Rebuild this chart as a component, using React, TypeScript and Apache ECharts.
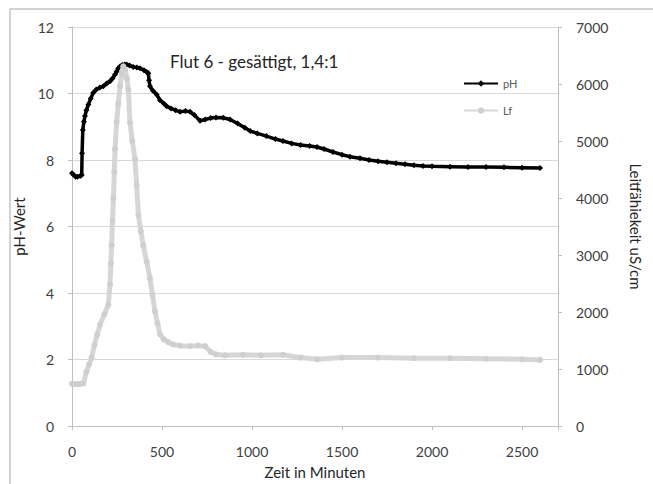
import React, { useEffect, useRef } from "react";
import * as echarts from "echarts";

const titleText = "Flut 6 - gesättigt, 1,4:1";
const xName = "Zeit in Minuten";
const leftName = "pH-Wert";
const rightName = "Leitfähiekeit uS/cm";
const seriesNames = ["pH", "Lf"];

const phData: [number, number][] = [
  [0, 7.6], [10, 7.55], [20, 7.5], [30, 7.5], [45, 7.52], [54, 7.55], [56, 8.2], [60, 8.9],
  [66, 9.15], [72, 9.32], [80, 9.5], [91, 9.67], [104, 9.85], [118, 10.02], [135, 10.12],
  [155, 10.18], [174, 10.22], [192, 10.3], [211, 10.37], [225, 10.45], [239, 10.57],
  [248, 10.66], [257, 10.76], [268, 10.82], [280, 10.86], [292, 10.87], [304, 10.87],
  [320, 10.84], [340, 10.8], [360, 10.78], [378, 10.76], [400, 10.7], [415, 10.65],
  [424, 10.61], [428, 10.4], [433, 10.22], [450, 10.08], [470, 9.97], [489, 9.8],
  [510, 9.7], [526, 9.62], [550, 9.55], [575, 9.5], [600, 9.45], [630, 9.47], [656, 9.45],
  [680, 9.35], [711, 9.18], [740, 9.22], [770, 9.26], [800, 9.28], [840, 9.27], [878, 9.22],
  [920, 9.1], [960, 8.97], [990, 8.87], [1030, 8.8], [1080, 8.72], [1130, 8.63],
  [1172, 8.57], [1220, 8.5], [1270, 8.45], [1320, 8.42], [1361, 8.39], [1400, 8.33],
  [1450, 8.24], [1500, 8.16], [1544, 8.1], [1600, 8.05], [1650, 8.0], [1700, 7.96],
  [1750, 7.93], [1800, 7.9], [1850, 7.87], [1900, 7.84], [1950, 7.82], [2000, 7.81],
  [2100, 7.8], [2200, 7.79], [2300, 7.79], [2400, 7.78], [2500, 7.77], [2600, 7.76],
];

const lfData: [number, number][] = [
  [0, 740], [15, 735], [30, 735], [45, 740], [63, 745], [80, 950], [95, 1080], [109, 1200],
  [125, 1420], [140, 1600], [156, 1780], [180, 1960], [202, 2130], [211, 2480], [216, 2850],
  [220, 3170], [225, 3600], [230, 3990], [235, 4450], [239, 4860], [248, 5330], [257, 5650],
  [267, 5960], [276, 6180], [285, 6310], [295, 6250], [305, 6100], [313, 5900], [322, 5320],
  [335, 5000], [350, 4680], [359, 4220], [369, 3700], [382, 3420], [396, 3170], [415, 2880],
  [433, 2590], [447, 2300], [461, 2010], [475, 1800], [489, 1610], [510, 1520], [535, 1470],
  [563, 1430], [600, 1410], [656, 1400], [700, 1410], [740, 1400], [770, 1300], [800, 1255],
  [850, 1240], [950, 1250], [1050, 1240], [1172, 1250], [1270, 1200], [1361, 1170],
  [1500, 1200], [1700, 1200], [1900, 1190], [2100, 1190], [2300, 1180], [2500, 1170],
  [2600, 1160],
];

const FONT = "Lato, 'Liberation Sans', sans-serif";
const AXIS_GREY = "#bfbfbf";
const LABEL_COLOR = "#404040";

export default function App() {
  const ref = useRef<HTMLDivElement>(null);
  useEffect(() => {
    if (!ref.current) return;
    const chart = echarts.init(ref.current, undefined, { renderer: "svg" });
    chart.setOption({
      animation: false,
      backgroundColor: "#ffffff",
      textStyle: { fontFamily: FONT },
      title: {
        text: titleText,
        left: 165,
        top: 48,
        textStyle: { fontFamily: FONT, fontSize: 17, fontWeight: "normal", color: "#262626" },
      },
      legend: {
        data: seriesNames,
        orient: "vertical",
        left: 458,
        top: 73,
        itemWidth: 34,
        itemHeight: 8,
        itemGap: 16,
        textStyle: { fontFamily: FONT, fontSize: 11, color: "#595959" },
      },
      grid: { left: 72, right: 95, top: 27, bottom: 55, containLabel: false },
      xAxis: {
        type: "value",
        min: 0,
        max: 2700,
        interval: 500,
        name: xName,
        nameLocation: "middle",
        nameGap: 38,
        nameTextStyle: { fontFamily: FONT, fontSize: 15, color: "#262626" },
        axisLine: { show: true, lineStyle: { color: AXIS_GREY, width: 1 } },
        axisTick: { show: true, length: 4, lineStyle: { color: AXIS_GREY } },
        axisLabel: {
          fontFamily: FONT,
          fontSize: 14,
          color: LABEL_COLOR,
          margin: 18,
          formatter: (v: number) => (v > 2500 ? "" : String(v)),
        },
        splitLine: { show: false },
      },
      yAxis: [
        {
          type: "value",
          min: 0,
          max: 12,
          interval: 2,
          name: leftName,
          nameLocation: "middle",
          nameRotate: 90,
          nameGap: 40,
          nameTextStyle: { fontFamily: FONT, fontSize: 15, color: "#262626" },
          axisLine: { show: true, lineStyle: { color: AXIS_GREY, width: 1 } },
          axisTick: { show: true, length: 4, lineStyle: { color: AXIS_GREY } },
          axisLabel: { fontFamily: FONT, fontSize: 14, color: LABEL_COLOR, margin: 18 },
          splitLine: { show: true, lineStyle: { color: "#d9d9d9", width: 1 } },
        },
        {
          type: "value",
          min: 0,
          max: 7000,
          interval: 1000,
          position: "right",
          name: rightName,
          nameLocation: "middle",
          nameRotate: -90,
          nameGap: 70,
          nameTextStyle: { fontFamily: FONT, fontSize: 15, color: "#262626" },
          axisLine: { show: true, lineStyle: { color: AXIS_GREY, width: 1 } },
          axisTick: { show: true, length: 4, lineStyle: { color: AXIS_GREY } },
          axisLabel: {
            fontFamily: FONT,
            fontSize: 14,
            color: LABEL_COLOR,
            margin: 18,
            formatter: (v: number) => String(v),
          },
          splitLine: { show: false },
        },
      ],
      graphic: [
        {
          type: "rect",
          shape: { x: 10, y: 9, width: 700, height: 520 },
          style: { fill: "none", stroke: "#a6a6a6", lineWidth: 1 },
          silent: true,
          z: -1,
        },
      ],
      series: [
        {
          name: seriesNames[0],
          type: "line",
          yAxisIndex: 0,
          data: phData,
          symbol: "diamond",
          symbolSize: 6,
          showSymbol: true,
          itemStyle: { color: "#000000" },
          lineStyle: { color: "#000000", width: 3.5 },
          z: 2,
        },
        {
          name: seriesNames[1],
          type: "line",
          yAxisIndex: 1,
          data: lfData,
          symbol: "circle",
          symbolSize: 6,
          showSymbol: true,
          itemStyle: { color: "#cfcfcf" },
          lineStyle: { color: "#d6d6d6", width: 5 },
          z: 3,
        },
      ],
    });
    return () => chart.dispose();
  }, []);
  return (
    <div
      ref={ref}
      style={{ position: "fixed", left: 0, top: 0, width: 653, height: 484, background: "#fff" }}
    />
  );
}
